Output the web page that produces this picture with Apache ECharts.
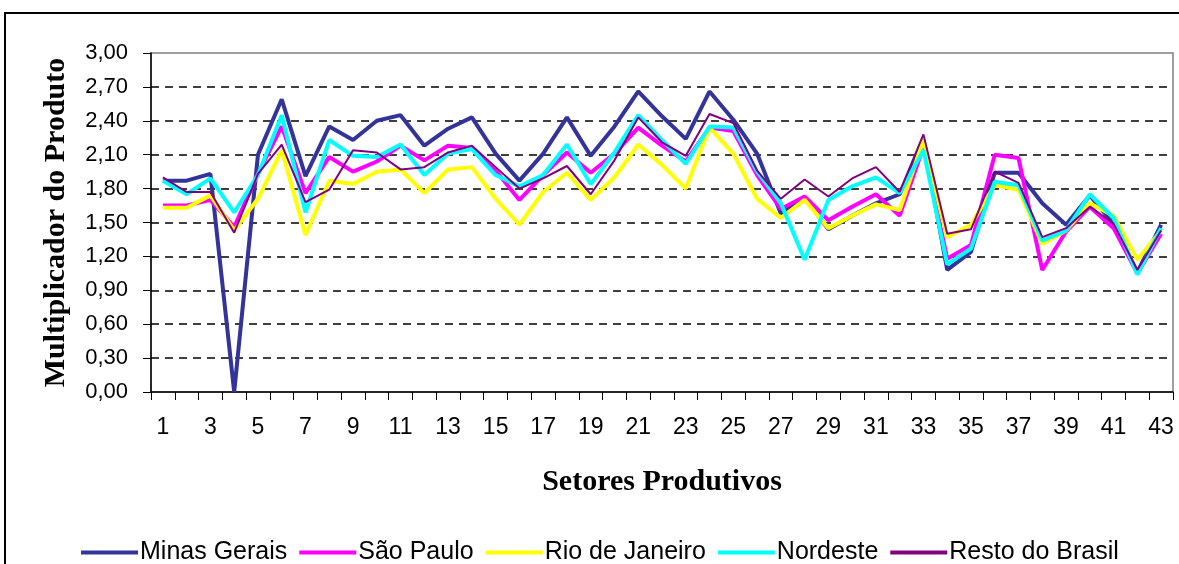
<!DOCTYPE html>
<html>
<head>
<meta charset="utf-8">
<script src="https://cdn.jsdelivr.net/npm/echarts@6/dist/echarts.min.js"></script>
<style>
  html, body { margin: 0; padding: 0; background: #fff; }
  #chart { width: 1179px; height: 564px; }
</style>
</head>
<body>
<div id="chart"></div>
<script>
// setores 1..43
const setores = []
for (let i = 1; i <= 43; i++) setores.push(String(i))

const minasGerais = [1.87, 1.87, 1.93, 0, 2.10, 2.59, 1.91, 2.35, 2.23, 2.40,
  2.45, 2.18, 2.33, 2.43, 2.11, 1.87, 2.11, 2.43, 2.09, 2.35,
  2.66, 2.44, 2.24, 2.66, 2.41, 2.11, 1.58, 1.72, 1.44, 1.56,
  1.67, 1.75, 2.23, 1.08, 1.24, 1.94, 1.94, 1.67, 1.48, 1.74,
  1.49, 1.06, 1.48]
const saoPaulo = [1.65, 1.65, 1.70, 1.46, 1.93, 2.35, 1.76, 2.08, 1.95, 2.04,
  2.18, 2.05, 2.18, 2.16, 1.96, 1.70, 1.92, 2.12, 1.94, 2.11,
  2.34, 2.18, 2.04, 2.34, 2.31, 1.92, 1.62, 1.73, 1.52, 1.64,
  1.75, 1.56, 2.17, 1.18, 1.30, 2.10, 2.07, 1.08, 1.42, 1.64,
  1.45, 1.05, 1.40]
const rioDeJaneiro = [1.63, 1.63, 1.74, 1.43, 1.71, 2.14, 1.39, 1.87, 1.84, 1.95,
  1.97, 1.76, 1.97, 1.99, 1.71, 1.48, 1.77, 1.94, 1.70, 1.90,
  2.19, 2.01, 1.80, 2.34, 2.11, 1.71, 1.54, 1.70, 1.45, 1.56,
  1.66, 1.61, 2.23, 1.37, 1.48, 1.83, 1.79, 1.31, 1.43, 1.67,
  1.56, 1.17, 1.43]
const nordeste = [1.87, 1.75, 1.89, 1.59, 1.92, 2.45, 1.59, 2.23, 2.09, 2.08,
  2.19, 1.92, 2.11, 2.15, 1.92, 1.82, 1.92, 2.19, 1.84, 2.12,
  2.45, 2.23, 2.02, 2.35, 2.34, 1.95, 1.67, 1.17, 1.70, 1.82,
  1.90, 1.76, 2.14, 1.13, 1.27, 1.86, 1.83, 1.34, 1.43, 1.75,
  1.54, 1.04, 1.45]
const restoDoBrasil = [1.90, 1.77, 1.77, 1.41, 1.93, 2.19, 1.68, 1.79, 2.14, 2.12,
  1.97, 1.99, 2.12, 2.18, 1.99, 1.80, 1.89, 2.00, 1.75, 2.05,
  2.43, 2.21, 2.09, 2.46, 2.38, 1.96, 1.71, 1.88, 1.73, 1.89,
  1.99, 1.77, 2.28, 1.40, 1.44, 1.95, 1.85, 1.37, 1.45, 1.64,
  1.49, 1.08, 1.43]

const sans = 'Liberation Sans, Arial, sans-serif'
const serif = 'Liberation Serif, Times New Roman, serif'

const mkLine = (name, data, color, width) => ({
  name: name,
  type: 'line',
  data: data,
  symbol: 'none',
  lineStyle: { color: color, width: width },
  itemStyle: { color: color },
  animation: false
})

// hide the split lines at 0 and 3,00 (axis line / plot border sit there)
const splitColors = []
for (let i = 0; i <= 10; i++) splitColors.push(i === 0 || i === 10 ? 'rgba(0,0,0,0)' : '#000')

const chart = echarts.init(document.getElementById('chart'))
chart.setOption({
  backgroundColor: '#fff',
  animation: false,
  graphic: [{
    type: 'rect',
    shape: { x: 5, y: 13, width: 1200, height: 600 },
    style: { fill: 'none', stroke: '#000', lineWidth: 2 },
    silent: true
  }],
  grid: {
    left: 151, right: 6, top: 53, bottom: 172,
    show: true, borderColor: '#808080', borderWidth: 1.5,
    backgroundColor: 'rgba(0,0,0,0)'
  },
  legend: {
    left: 76, top: 535,
    icon: 'rect',
    itemWidth: 57, itemHeight: 4, itemGap: 12,
    textStyle: { fontFamily: sans, fontSize: 25, color: '#000', padding: [0, 0, 0, -3] },
    data: ['Minas Gerais', 'São Paulo', 'Rio de Janeiro', 'Nordeste', 'Resto do Brasil']
  },
  xAxis: {
    type: 'category',
    data: setores,
    boundaryGap: true,
    name: 'Setores Produtivos',
    nameLocation: 'middle',
    nameGap: 75,
    nameTextStyle: { fontFamily: serif, fontWeight: 'bold', fontSize: 30, color: '#000' },
    axisLine: { lineStyle: { color: '#000', width: 1.5 } },
    axisTick: { show: true, interval: 0, length: 8, lineStyle: { color: '#000' } },
    axisLabel: { interval: 1, margin: 24, fontFamily: sans, fontSize: 23, color: '#000' },
    splitLine: { show: false }
  },
  yAxis: {
    type: 'value',
    min: 0, max: 3, interval: 0.3,
    name: 'Multiplicador do Produto',
    nameLocation: 'middle',
    nameGap: 80,
    nameTextStyle: { fontFamily: serif, fontWeight: 'bold', fontSize: 30, color: '#000' },
    axisLine: { show: true, lineStyle: { color: '#000', width: 1.5 } },
    axisTick: { show: true, length: 8, lineStyle: { color: '#000' } },
    axisLabel: {
      margin: 23, fontFamily: sans, fontSize: 22, color: '#000',
      formatter: v => v.toFixed(2).replace('.', ',')
    },
    splitLine: { show: true, lineStyle: { color: splitColors, width: 1.5, type: [8, 6] } }
  },
  series: [
    mkLine('Minas Gerais', minasGerais, '#333399', 4),
    mkLine('São Paulo', saoPaulo, '#ff00ff', 4),
    mkLine('Rio de Janeiro', rioDeJaneiro, '#ffff00', 4),
    mkLine('Nordeste', nordeste, '#00ffff', 4),
    mkLine('Resto do Brasil', restoDoBrasil, '#800080', 2)
  ]
})
</script>
</body>
</html>
